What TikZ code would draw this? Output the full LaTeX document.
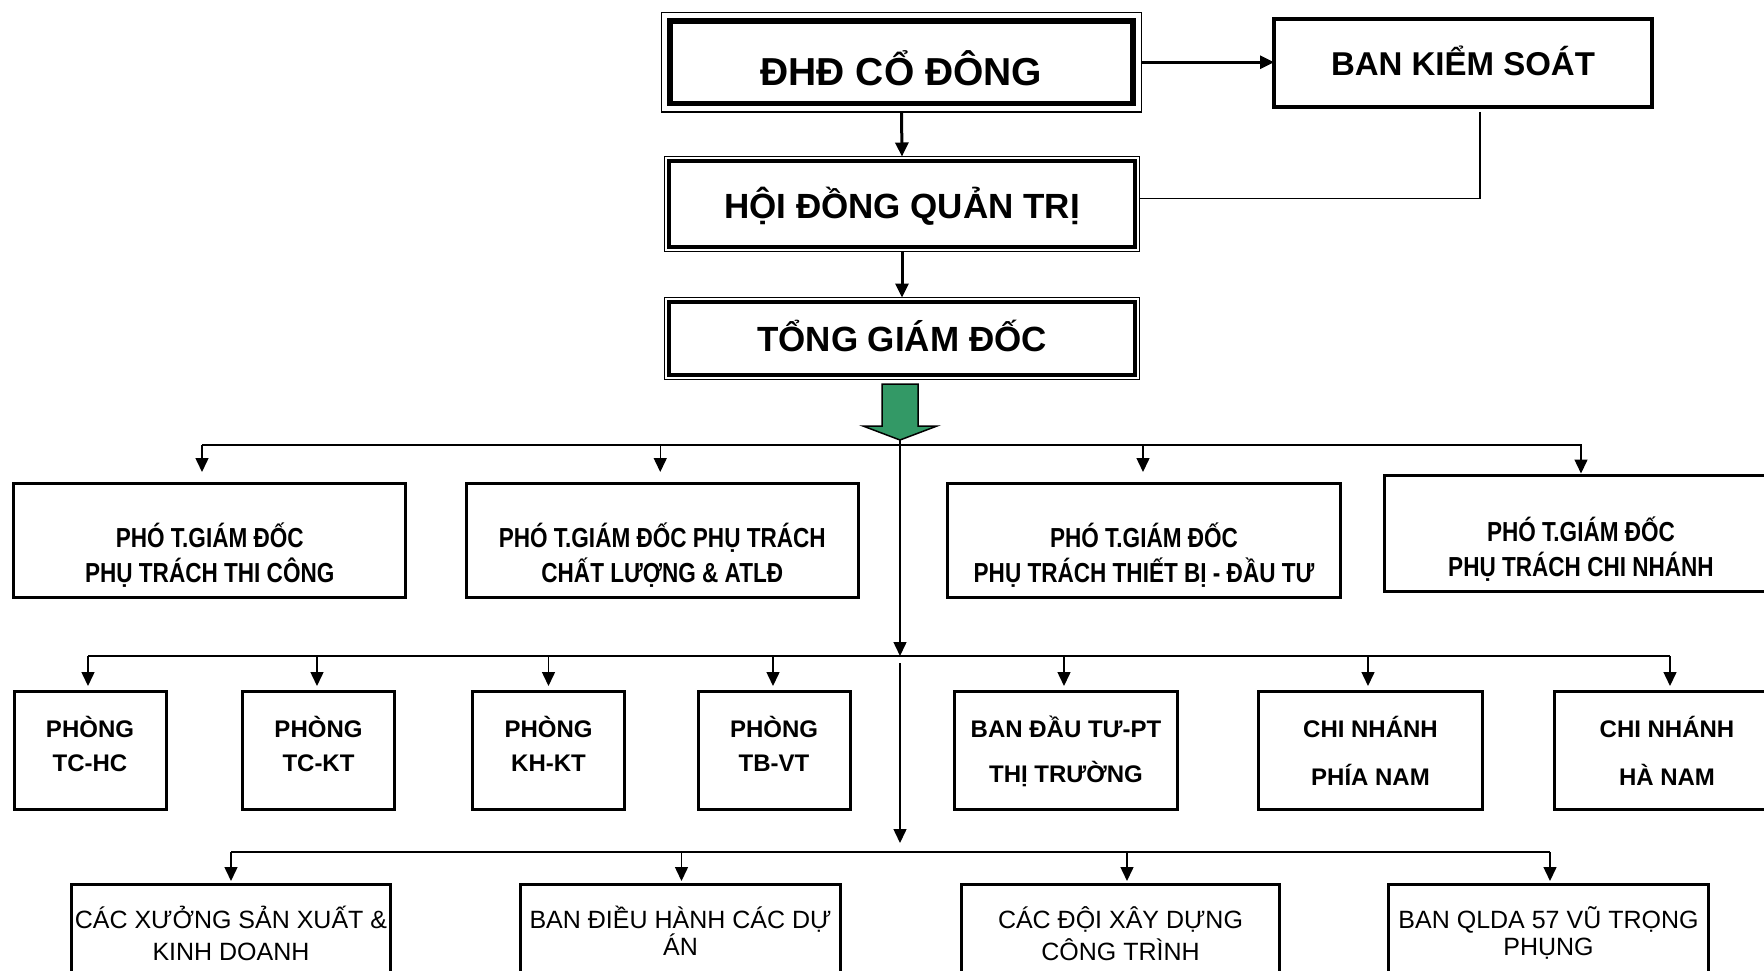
\documentclass[tikz,border=0pt]{standalone}
\usepackage{fontspec}
\setmainfont{Liberation Sans}
\newfontfamily\nb{Liberation Sans}[FakeStretch=0.82]
\usetikzlibrary{arrows.meta,fit}
\definecolor{sea}{HTML}{339966}
\newcommand\twol[4][0pt]{\rule{0pt}{#2}\smash{#3}\\\smash{#4}\rule[-#1]{0pt}{#1}}
\begin{document}
\begin{tikzpicture}[x=1pt,y=-1pt,
  every node/.style={inner sep=0pt,outer sep=0pt},
  topbox/.style={draw,line width=4pt,text depth=0pt},
  framebox/.style={draw,line width=1.5pt,inner sep=#1},
  rowbox/.style={draw,line width=3pt,align=center},
  vicefont/.style={font=\nb\bfseries\fontsize{27.5pt}{35pt}\selectfont},
  deptfont/.style={font=\bfseries\fontsize{24pt}{#1}\selectfont},
  unitfont/.style={font=\fontsize{25pt}{#1}\selectfont},
  tip/.style={-{Triangle[length=14pt,width=13pt]}},
  arrT/.style={tip,line width=3pt},
  arr/.style={tip,line width=1.5pt},
  bus/.style={line width=2.5pt},
  link/.style={line width=1.5pt},
  greenarrow/.style={fill=sea,draw=black,line width=1.5pt,line join=miter}]
\useasboundingbox (0,0) rectangle (1764,971);
\clip (0,0) rectangle (1764,971);

% ---- top level
\node[topbox,line width=5.5pt,minimum width=463pt,minimum height=82.5pt,text height=46pt,
  font=\bfseries\fontsize{39pt}{44pt}\selectfont] (dhd) at (901.5,62.25) {ĐHĐ CỔ ĐÔNG};
\node[framebox=8.5pt,fit=(dhd)] (dhdo) {};
\node[topbox,minimum width=378pt,minimum height=88pt,text height=26pt,
  font=\bfseries\fontsize{33pt}{38pt}\selectfont] (bks) at (1463,63) {BAN KIỂM SOÁT};
\node[topbox,minimum width=466pt,minimum height=86pt,text height=28pt,
  font=\bfseries\fontsize{35pt}{40pt}\selectfont] (hdqt) at (902,204) {HỘI ĐỒNG QUẢN TRỊ};
\node[framebox=4.5pt,fit=(hdqt)] (hdqto) {};
\node[topbox,minimum width=466pt,minimum height=73pt,text height=26pt,
  font=\bfseries\fontsize{35pt}{40pt}\selectfont] (tgd) at (902,338.5) {TỔNG GIÁM ĐỐC};
\node[framebox=4.5pt,fit=(tgd)] (tgdo) {};

\draw[arrT] (dhdo.south) -- (hdqto.north);
\draw[arrT] (hdqto.south) -- (tgdo.north);
\draw[arrT] (dhdo.east) -- (dhdo.east -| bks.west);
\draw[link] ([xshift=17pt,yshift=-5pt]bks.south) |- ([yshift=5.75pt]hdqto.east);

% ---- green arrow
\draw[greenarrow] (882,384) -- (918,384) -- (918,426) -- (937,426) -- (900,440)
  -- (863,426) -- (882,426) -- cycle;
\coordinate (gtip) at (900,440);
\coordinate (bus1) at (900,445);
\coordinate (bus2) at (900,656);
\coordinate (bus3) at (900,852);

% ---- row 1
\node[rowbox,vicefont,minimum width=392pt,minimum height=114pt] (p1) at (209.75,540)
  {\twol{50pt}{PHÓ T.GIÁM ĐỐC}{PHỤ TRÁCH THI CÔNG}};
\node[rowbox,vicefont,minimum width=392pt,minimum height=114pt] (p2) at (662.25,540)
  {\twol{50pt}{PHÓ T.GIÁM ĐỐC PHỤ TRÁCH}{CHẤT LƯỢNG \& ATLĐ}};
\node[rowbox,vicefont,minimum width=393pt,minimum height=114pt] (p3) at (1144,540)
  {\twol{50pt}{PHÓ T.GIÁM ĐỐC}{PHỤ TRÁCH THIẾT BỊ - ĐẦU TƯ}};
\node[rowbox,vicefont,minimum width=393pt,minimum height=116.5pt] (p4) at (1581,533.25)
  {\twol{50.5pt}{PHÓ T.GIÁM ĐỐC}{PHỤ TRÁCH CHI NHÁNH}};

\draw[bus] ([xshift=-7.75pt]p1.north |- bus1) -- (p4.north |- bus1);
\draw[arr] ([xshift=-7.75pt]p1.north |- bus1) -- ([xshift=-7.75pt,yshift=11pt]p1.north);
\draw[arr] ([xshift=-2pt]p2.north |- bus1) -- ([xshift=-2pt,yshift=11pt]p2.north);
\draw[arr] ([xshift=-1pt]p3.north |- bus1) -- ([xshift=-1pt,yshift=11pt]p3.north);
\draw[arr] ([yshift=1pt]p4.north |- bus1) -- ([yshift=1.5pt]p4.north);

% ---- row 2
\node[rowbox,deptfont=34pt,minimum width=152pt,minimum height=118pt] (q1) at (90,750.5)
  {\twol{8pt}{PHÒNG}{TC-HC}};
\node[rowbox,deptfont=34pt,minimum width=152pt,minimum height=118pt] (q2) at (318.5,750.5)
  {\twol{8pt}{PHÒNG}{TC-KT}};
\node[rowbox,deptfont=34pt,minimum width=152pt,minimum height=118pt] (q3) at (548.5,750.5)
  {\twol{8pt}{PHÒNG}{KH-KT}};
\node[rowbox,deptfont=34pt,minimum width=152pt,minimum height=118pt] (q4) at (774,750.5)
  {\twol{8pt}{PHÒNG}{TB-VT}};
\node[rowbox,deptfont=45pt,minimum width=223pt,minimum height=118pt] (q5) at (1066,750.5)
  {\twol{18pt}{BAN ĐẦU TƯ-PT}{THỊ TRƯỜNG}};
\node[rowbox,deptfont=47.5pt,minimum width=224pt,minimum height=118pt] (q6) at (1370.5,750.5)
  {\twol{21.5pt}{CHI NHÁNH}{PHÍA NAM}};
\node[rowbox,deptfont=47.5pt,minimum width=226pt,minimum height=118pt] (q7) at (1667,750.5)
  {\twol{21.5pt}{CHI NHÁNH}{HÀ NAM}};

\draw[arr] (gtip) -- (bus2);
\draw[bus] ([xshift=-2pt]q1.north |- bus2) -- ([xshift=3pt]q7.north |- bus2);
\foreach \q/\dx in {q1/-2pt,q2/-1.5pt,q3/0pt,q4/-1pt,q5/-2pt,q6/-2.5pt,q7/3pt}
  \draw[arr] ([xshift=\dx]\q.north |- bus2) -- ([xshift=\dx,yshift=5.5pt]\q.north);

% ---- row 3
\node[rowbox,unitfont=32.5pt,minimum width=319pt,minimum height=118pt] (r1) at (231,943.5)
  {\twol{1.5pt}{CÁC XƯỞNG SẢN XUẤT \&}{KINH DOANH}};
\node[rowbox,unitfont=27pt,minimum width=320pt,minimum height=118pt] (r2) at (680.5,943.5)
  {\twol[4pt]{0pt}{BAN ĐIỀU HÀNH CÁC DỰ}{ÁN}};
\node[rowbox,unitfont=32.5pt,minimum width=318pt,minimum height=118pt] (r3) at (1120.5,943.5)
  {\twol{1.5pt}{CÁC ĐỘI XÂY DỰNG}{CÔNG TRÌNH}};
\node[rowbox,unitfont=27pt,minimum width=320pt,minimum height=118pt] (r4) at (1548.5,943.5)
  {\twol[4pt]{0pt}{BAN QLDA 57 VŨ TRỌNG}{PHỤNG}};

\draw[arr] ([yshift=-7pt]bus2) -- ([yshift=9pt]bus3);
\draw[bus] (r1.north |- bus3) -- ([xshift=1.5pt]r4.north |- bus3);
\foreach \r/\dx in {r1/0pt,r2/1pt,r3/6.5pt,r4/1.5pt}
  \draw[arr] ([xshift=\dx]\r.north |- bus3) -- ([xshift=\dx,yshift=3.5pt]\r.north);
\end{tikzpicture}
\end{document}
